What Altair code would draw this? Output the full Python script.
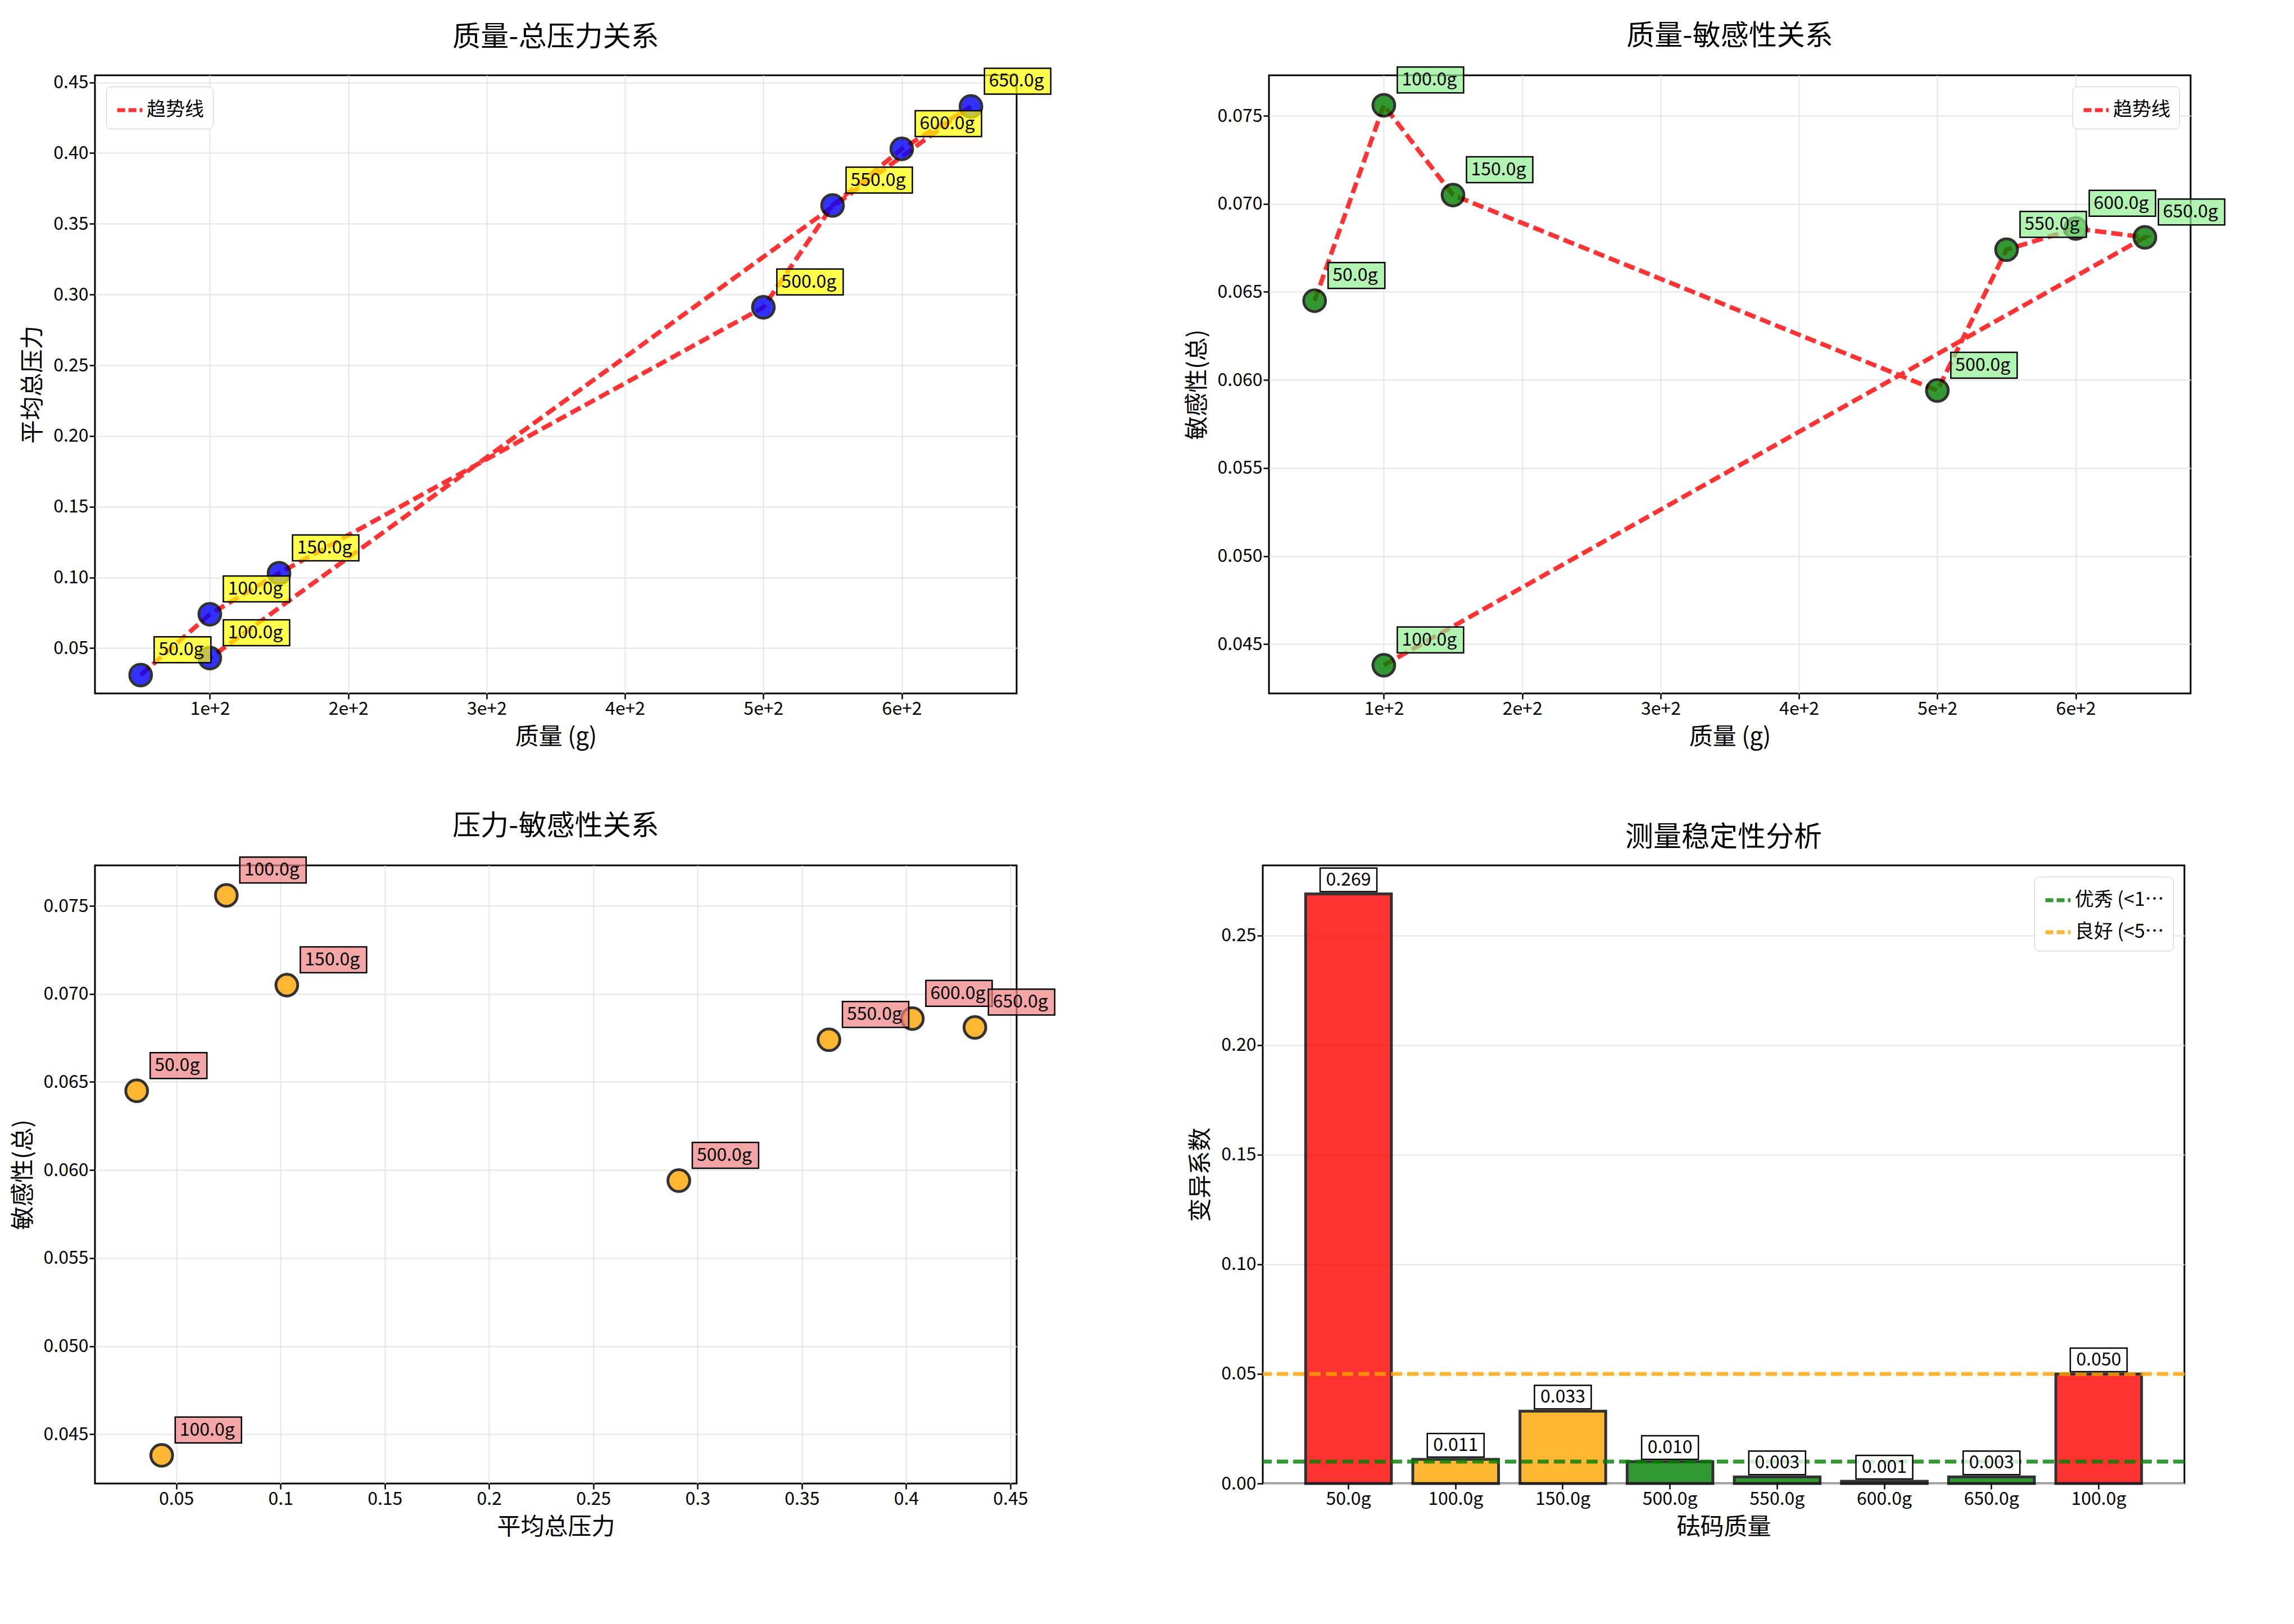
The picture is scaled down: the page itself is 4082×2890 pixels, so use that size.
import altair as alt
import pandas as pd

FONT = "Noto Sans CJK SC"

labels = ["50.0g", "100.0g", "150.0g", "500.0g", "550.0g", "600.0g", "650.0g", "100.0g"]
mass = [50, 100, 150, 500, 550, 600, 650, 100]
pressure = [0.031, 0.074, 0.103, 0.291, 0.363, 0.403, 0.433, 0.043]
sensitivity = [0.0645, 0.0756, 0.0705, 0.0594, 0.0674, 0.0686, 0.0681, 0.0438]
cv = [0.269, 0.011, 0.033, 0.010, 0.003, 0.001, 0.003, 0.050]

mass_ticks = [100, 200, 300, 400, 500, 600]
pressure_ticks = [0.05, 0.10, 0.15, 0.20, 0.25, 0.30, 0.35, 0.40, 0.45]
sens_ticks = [0.045, 0.050, 0.055, 0.060, 0.065, 0.070, 0.075]
cv_ticks = [0.0, 0.05, 0.10, 0.15, 0.20, 0.25]


def box_path(text, centered=False):
    w = 17 * len(text) + 16
    if centered:
        x0, x1, y0, y1 = -w / 2, w / 2, -4, -46
    else:
        x0, x1, y0, y1 = 24, 24 + w, -22, -68
    return f"M{x0},{y0}L{x1},{y0}L{x1},{y1}L{x0},{y1}Z"


df = pd.DataFrame({
    "idx": range(len(labels)),
    "label": labels,
    "mass": mass,
    "pressure": pressure,
    "sens": sensitivity,
    "cv": cv,
})
df["box"] = [box_path(t) for t in labels]
df["cvtxt"] = [f"{v:.3f}" for v in cv]
df["cvbox"] = [box_path(t, True) for t in df["cvtxt"]]
df["barcolor"] = ["#ff0000" if v >= 0.05 else ("#ffa500" if v > 0.01 else "#008000") for v in cv]
df["trend"] = "趋势线"

W, H = 1640, 1100


def legend(orient):
    return alt.Legend(title=None, orient=orient, symbolType="stroke", symbolDash=[14, 6],
                      symbolStrokeWidth=7, symbolSize=2000, labelFontSize=34, labelFont=FONT,
                      fillColor="white", strokeColor="#cccccc", padding=16, cornerRadius=8,
                      rowPadding=14, offset=20)


def scatter_panel(xf, yf, xtitle, ytitle, title, xdom, ydom, xvals, yvals, ptcol, boxcol, legend_orient=None):
    base = alt.Chart(df)
    x = alt.X(f"{xf}:Q", title=xtitle, scale=alt.Scale(domain=xdom, nice=False, zero=False),
              axis=alt.Axis(values=xvals, format="~g"))
    y = alt.Y(f"{yf}:Q", title=ytitle, scale=alt.Scale(domain=ydom, nice=False, zero=False),
              axis=alt.Axis(values=yvals))
    layers = []
    if legend_orient:
        layers.append(base.mark_line(strokeDash=[20, 9], strokeWidth=8, opacity=0.8).encode(
            x=x, y=y, order="idx:Q",
            color=alt.Color("trend:N", scale=alt.Scale(range=["#ff0000"]), legend=legend(legend_orient))))
    layers.append(base.mark_point(filled=True, size=1500, color=ptcol, opacity=0.8,
                                  stroke="black", strokeWidth=5).encode(x=x, y=y))
    layers.append(base.mark_point(filled=True, size=4, fill=boxcol, fillOpacity=0.7, opacity=1,
                                  stroke="black", strokeWidth=2.5).encode(
        x=x, y=y, shape=alt.Shape("box:N", scale=None, legend=None)))
    layers.append(base.mark_text(align="left", baseline="middle", dx=32, dy=-45, fontSize=32,
                                 font=FONT).encode(x=x, y=y, text="label:N"))
    return alt.layer(*layers).properties(width=W, height=H, title=title)


p1 = scatter_panel("mass", "pressure", "质量 (g)", "平均总压力", "质量-总压力关系",
                   [17, 683], [0.018, 0.455], mass_ticks, [0.05, 0.10, 0.15, 0.20, 0.25, 0.30, 0.35, 0.40, 0.45],
                   "#0000ff", "#ffff00", "top-left")
p2 = scatter_panel("mass", "sens", "质量 (g)", "敏感性(总)", "质量-敏感性关系",
                   [17, 683], [0.0422, 0.0773], mass_ticks, sens_ticks, "#008000", "#90ee90", "top-right")
p3 = scatter_panel("pressure", "sens", "平均总压力", "敏感性(总)", "压力-敏感性关系",
                   [0.011, 0.453], [0.0422, 0.0773], pressure_ticks, sens_ticks, "#ffa500", "#f08080")

label_expr = "[" + ",".join(f"'{t}'" for t in labels) + "][datum.value]"
bx = alt.X("idx:O", title="砝码质量", scale=alt.Scale(paddingInner=0.2, paddingOuter=0.4),
           axis=alt.Axis(labelExpr=label_expr, labelAngle=0))
by = alt.Y("cv:Q", title="变异系数", scale=alt.Scale(domain=[0, 0.282], nice=False),
           axis=alt.Axis(values=cv_ticks, format=".2f"))
bars = alt.Chart(df).mark_bar(opacity=0.8, stroke="black", strokeWidth=5).encode(
    x=bx, y=by, fill=alt.Fill("barcolor:N", scale=None))
bar_box = alt.Chart(df).mark_point(filled=True, size=4, fill="white", fillOpacity=0.8, opacity=1,
                                   stroke="black", strokeWidth=2.5).encode(
    x=bx, y=by, shape=alt.Shape("cvbox:N", scale=None, legend=None))
bar_txt = alt.Chart(df).mark_text(baseline="middle", dy=-25, fontSize=32, font=FONT).encode(
    x=bx, y=by, text="cvtxt:N")
thr = pd.DataFrame({"name": ["优秀 (<1%)", "良好 (<5%)"], "v": [0.01, 0.05]})
rules = alt.Chart(thr).mark_rule(strokeDash=[20, 9], strokeWidth=7, opacity=0.8).encode(
    y="v:Q",
    color=alt.Color("name:N", scale=alt.Scale(domain=list(thr["name"]), range=["#008000", "#ffa500"]),
                    legend=legend("top-right")))
p4 = alt.layer(bars, rules, bar_box, bar_txt).properties(width=W, height=H, title="测量稳定性分析")

chart = alt.vconcat(
    alt.hconcat(p1, p2, spacing=230).resolve_scale(color="independent").resolve_legend(color="independent"),
    alt.hconcat(p3, p4, spacing=230).resolve_scale(color="independent").resolve_legend(color="independent"),
    spacing=110,
).resolve_scale(color="independent", shape="independent").resolve_legend(
    color="independent"
).properties(padding={"top": 30, "left": 10, "right": 10, "bottom": 10}).configure(
    font=FONT
).configure_view(stroke="black", strokeWidth=3).configure_axis(
    labelFontSize=32, titleFontSize=42, titleFontWeight="normal", labelFont=FONT, titleFont=FONT,
    gridColor="#e6e6e6", gridWidth=2, tickColor="black", tickWidth=2.5, tickSize=10,
    domain=False, labelColor="black", titleColor="black", titlePadding=14
).configure_title(fontSize=50, fontWeight="normal", font=FONT, offset=24)

chart.save("out.html", embed_options={"renderer": "svg", "actions": False})
